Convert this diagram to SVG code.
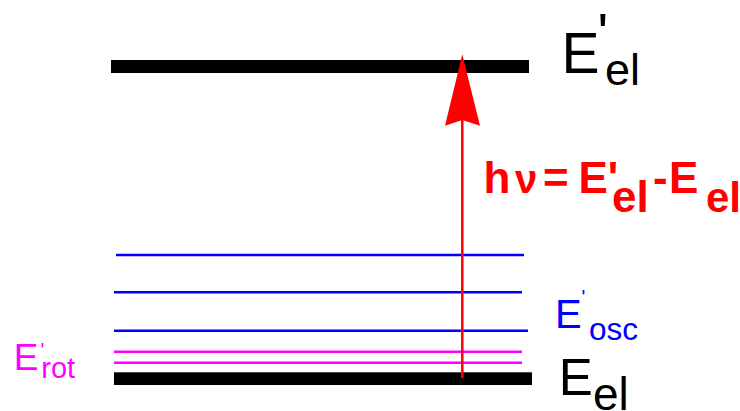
<svg xmlns="http://www.w3.org/2000/svg" width="740" height="411" viewBox="0 0 740 411">
<style>
.t{font-family:"Liberation Sans",Arial,sans-serif}
.b{font-weight:bold}
.blue{stroke:#0000ff;stroke-width:2.5}
.mag{stroke:#ff00ff;stroke-width:2.5}
</style>
<rect width="740" height="411" fill="#ffffff"/>
<g id="level-upper">
<rect x="111" y="60" width="418" height="13" fill="#000"/>
<text class="t" fill="#000"><tspan x="561.6" y="73" font-size="57">E</tspan><tspan x="597.6" y="51.8" font-size="56">'</tspan><tspan x="605" y="85" font-size="45">el</tspan></text>
</g>
<g id="levels-osc">
<line class="blue" x1="116" y1="255" x2="524" y2="255"/>
<line class="blue" x1="114" y1="292.3" x2="522" y2="292.3"/>
<line class="blue" x1="114" y1="330.7" x2="528" y2="330.7"/>
<text class="t" fill="#0000ff"><tspan x="555" y="328.3" font-size="40">E</tspan><tspan x="581.5" y="304.3" font-size="20">'</tspan><tspan x="589" y="340" font-size="31.5">osc</tspan></text>
</g>
<g id="levels-rot">
<line class="mag" x1="114" y1="351.7" x2="522" y2="351.7"/>
<line class="mag" x1="114" y1="362.7" x2="522" y2="362.7"/>
<text class="t" fill="#ff00ff"><tspan x="13.8" y="370" font-size="37">E</tspan><tspan x="40.5" y="357.3" font-size="20">'</tspan><tspan x="41.3" y="378.3" font-size="29">rot</tspan></text>
</g>
<g id="level-lower">
<rect x="114" y="372.3" width="418" height="12.7" fill="#000"/>
<text class="t" fill="#000"><tspan x="558.7" y="395" font-size="51">E</tspan><tspan x="593" y="410" font-size="46">el</tspan></text>
</g>
<g id="connectors">
<line x1="462.3" y1="378.3" x2="462.3" y2="118" stroke="#ff0000" stroke-width="2.5"/>
<polygon points="462.3,54.3 480,125.7 462.3,120 445,125.7" fill="#ff0000"/>
</g>
<g id="label-hv">
<text class="t b" fill="#ff0000" font-size="44"><tspan x="483.5" y="193.3">h</tspan><tspan x="515" y="193.3" font-size="40">ν</tspan><tspan x="543" y="193.3">=</tspan><tspan x="578.5" y="193.3">E'</tspan><tspan x="612" y="211.7">el</tspan><tspan x="653" y="193.3">-</tspan><tspan x="669" y="193.3">E</tspan><tspan x="706" y="211.7" font-size="42">el</tspan></text>
</g>
</svg>
